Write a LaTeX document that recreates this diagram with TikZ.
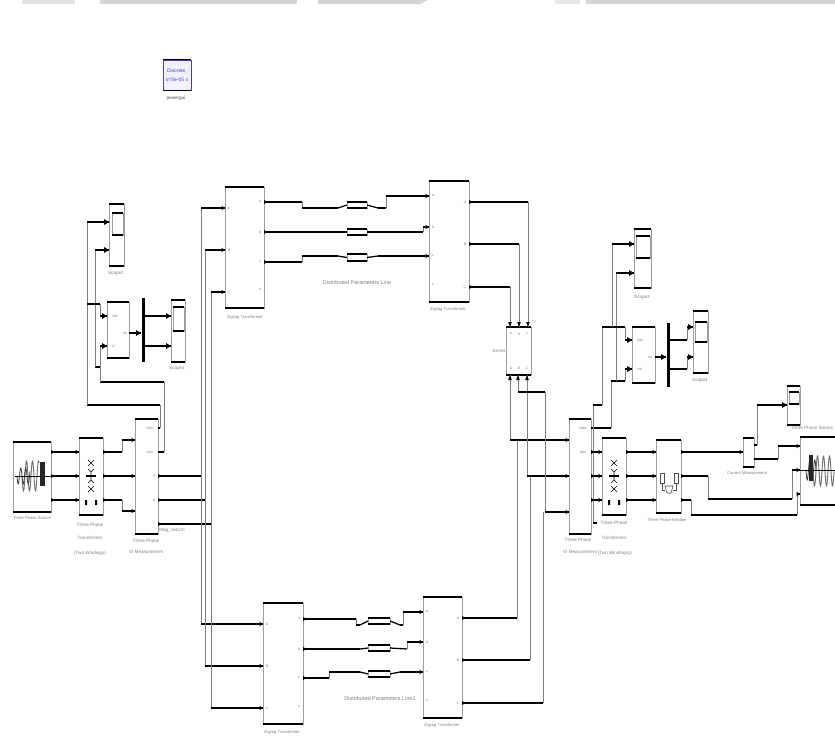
\documentclass[tikz,border=0pt]{standalone}
\usepackage{fontspec}
\setmainfont{Liberation Sans}
\usetikzlibrary{calc}
\definecolor{sidegray}{gray}{0.62}
\definecolor{labgray}{gray}{0.5}
\definecolor{bandgray}{gray}{0.84}
\definecolor{pgblue}{rgb}{0.25,0.25,0.8}
\tikzset{
 blockbox/.style={rectangle,draw=sidegray,line width=0.8pt,inner sep=0pt,outer sep=0pt},
 edge/.style={black,line width=1.25pt},
 hwire/.style={black,line width=1.25pt,line cap=square},
 vwire/.style={sidegray!80!black,line width=0.9pt,line cap=square},
 lab/.style={text=labgray,inner sep=0pt,font=\fontsize{4.6}{5.5}\selectfont},
 slab/.style={text=labgray,inner sep=0pt,font=\fontsize{4.1}{5}\selectfont},
 blab/.style={text=labgray,inner sep=0pt,font=\fontsize{5.5}{6.5}\selectfont},
 plab/.style={text=labgray,inner sep=0pt,font=\fontsize{3.6}{4}\selectfont},
 icon/.style={black,line width=0.6pt},
 coil/.style={sidegray!70!black,line width=0.9pt}
}
\newcounter{labn}
\newcommand\lab[4][lab]{\stepcounter{labn}\node[#1] (t\arabic{labn}) at (#2,#3) {#4};}
\newcommand\blk[5]{%
 \pgfmathsetmacro\bw{#4-#2}\pgfmathsetmacro\bh{#5-#3}%
 \pgfmathsetmacro\bx{(#4+#2)/2}\pgfmathsetmacro\by{(#5+#3)/2}%
 \node[blockbox,minimum width=\bw pt,minimum height=\bh pt] (#1) at (\bx,\by) {};
 \draw[edge] (#1.north west)--(#1.north east);
 \draw[edge] (#1.south west)--(#1.south east);}
\newcommand\port[4]{\coordinate (#1) at (#2.#3 |- 0,#4);}
% wire through a list of points: horizontal and slanted runs black, vertical runs grey
\newcommand\wire[1]{%
 \foreach \wq [count=\wi, remember=\wq as \wp (initially 0)] in {#1} {%
  \ifnum\wi>1
   \path (\wp); \pgfgetlastxy{\xa}{\ya}%
   \path (\wq); \pgfgetlastxy{\xb}{\yb}%
   \pgfmathtruncatemacro\wflag{abs(\xa-\xb)<0.1?1:0}%
   \ifnum\wflag>0 \draw[vwire] (\wp)--(\wq); \else \draw[hwire] (\wp)--(\wq); \fi
  \fi}}
\newcommand\tipR[1]{\fill[black,shift={(#1)}] (-5,-3)--(0,0)--(-5,3)--cycle;}
\newcommand\tipS[1]{\fill[black,shift={(#1)}] (-3.5,-2.2)--(0,0)--(-3.5,2.2)--cycle;}
\newcommand\tipD[1]{\fill[black,shift={(#1)}] (-1.8,-5)--(0,0)--(1.8,-5)--cycle;}
\newcommand\tipU[1]{\fill[black,shift={(#1)}] (-1.8,5)--(0,0)--(1.8,5)--cycle;}
\newcommand\tipO[1]{\fill[black,shift={(#1)}] (0,-2)--(3.5,0)--(0,2)--cycle;}
\newcommand\xfmricon[2]{%
 \begin{scope}[shift={(#1,#2)}]
  \draw[icon] (-3,-16)--(0,-13)--(3,-16) (-3,-10)--(0,-13)--(3,-10);
  \draw[icon] (-3,-7)--(0,-4)--(3,-7) (0,-4)--(0,0);
  \draw[icon] (-3,7)--(0,4)--(3,7) (0,4)--(0,0);
  \draw[icon] (-3,16)--(0,13)--(3,16) (-3,10)--(0,13)--(3,10);
  \draw[black,line width=1.1pt] (-5,0)--(5,0);
  \fill[black] (-6,24) rectangle (-4,29) (4,24) rectangle (6,29);
 \end{scope}}
\begin{document}
\begin{tikzpicture}[x=1pt,y=-1pt]
\useasboundingbox (0,0) rectangle (835,736);
\fill[white] (0,0) rectangle (835,736);
% band along the top edge
\fill[bandgray!70] (22,0) rectangle (75,4);
\fill[bandgray] (100,0) rectangle (297,4);
\fill[bandgray] (318,0)--(428,0)--(420,4)--(318,4)--cycle;
\fill[bandgray!60] (555,0) rectangle (580,4);
\fill[bandgray] (586,0) rectangle (835,4);

% powergui
\node[rectangle,fill=blue!5,draw=pgblue,line width=0.7pt,minimum width=28pt,minimum height=30pt,inner sep=0pt,text=pgblue,align=center,font=\fontsize{5}{9}\selectfont] (pg) at (177,75) {Discrete,\\s=5e-05 s};
\draw[edge] (pg.north west)--(pg.north east);
\draw[edge] (pg.south west)--(pg.south east);
\lab{176}{98}{\textcolor{black!70}{powergui}}

% blocks
\blk{srcL}{13}{442}{51}{512}
\blk{trL}{79}{438}{103}{515}
\blk{mL}{135}{419}{158}{534}
\blk{scA}{109}{204}{124}{266}
\blk{scAd}{112}{213}{123}{235}
\blk{muxA}{107}{302}{129}{358}
\blk{scB}{171}{300}{185}{362}
\blk{scBd}{173}{307}{184}{331}
\blk{zTL}{225}{187}{264}{308}
\blk{zTR}{429}{181}{469}{302}
\blk{zBL}{263}{603}{303}{724}
\blk{zBR}{423}{597}{462}{718}
\blk{brk}{506}{327}{531}{375}
\blk{mR}{569}{419}{591}{534}
\blk{trR}{602}{438}{626}{515}
\blk{brR}{656}{440}{681}{513}
\blk{cm}{743}{438}{754}{467}
\blk{scE}{787}{386}{800}{425}
\blk{scEd}{789}{392}{799}{404}
\blk{srcR}{800}{437}{838}{505}
\blk{scC}{634}{229}{651}{288}
\blk{scCd}{636}{236}{650}{258}
\blk{muxB}{632}{327}{655}{383}
\blk{scD}{693}{311}{708}{373}
\blk{scDd}{695}{322}{707}{342}
% transmission line blocks
\blk{lnTa}{347}{202}{367}{208}
\blk{lnTb}{347}{229}{367}{235}
\blk{lnTc}{347}{254}{367}{261}
\blk{lnBa}{368}{618}{390}{624}
\blk{lnBb}{368}{645}{390}{651}
\blk{lnBc}{368}{671}{390}{677}
% demux bars
\node[rectangle,fill=black,minimum width=3pt,minimum height=64pt,inner sep=0pt] (barA) at (143,330) {};
\node[rectangle,fill=black,minimum width=3pt,minimum height=64pt,inner sep=0pt] (barB) at (668,355) {};

% ports
\foreach \n/\y in {a/452,b/476,c/500}{
 \port{srcL\n}{srcL}{east}{\y}\port{trLi\n}{trL}{west}{\y}\port{trLo\n}{trL}{east}{\y}
 \port{mRo\n}{mR}{east}{\y}\port{trRi\n}{trR}{west}{\y}\port{trRo\n}{trR}{east}{\y}\port{brRi\n}{brR}{west}{\y}\port{brRo\n}{brR}{east}{\y}}
\port{mLa}{mL}{west}{440}\port{mLb}{mL}{west}{476}\port{mLc}{mL}{west}{511}
\port{mLv}{mL}{east}{428}\port{mLi}{mL}{east}{452}
\port{mLoa}{mL}{east}{476}\port{mLob}{mL}{east}{500}\port{mLoc}{mL}{east}{524}
\port{mRa}{mR}{west}{440}\port{mRb}{mR}{west}{476}\port{mRc}{mR}{west}{512}
\port{mRv}{mR}{east}{428}
\port{tla}{zTL}{west}{208}\port{tlb}{zTL}{west}{250}\port{tlc}{zTL}{west}{292}
\port{tra}{zTL}{east}{202}\port{trb}{zTL}{east}{232}\port{trc}{zTL}{east}{262}
\port{Tla}{zTR}{west}{196}\port{Tlb}{zTR}{west}{227}\port{Tlc}{zTR}{west}{256}
\port{Tra}{zTR}{east}{202}\port{Trb}{zTR}{east}{244}\port{Trc}{zTR}{east}{287}
\port{bla}{zBL}{west}{624}\port{blb}{zBL}{west}{666}\port{blc}{zBL}{west}{708}
\port{bra}{zBL}{east}{619}\port{brb}{zBL}{east}{649}\port{brc}{zBL}{east}{678}
\port{Bla}{zBR}{west}{612}\port{Blb}{zBR}{west}{642}\port{Blc}{zBR}{west}{672}
\port{Bra}{zBR}{east}{618}\port{Brb}{zBR}{east}{660}\port{Brc}{zBR}{east}{703}
\coordinate (kta) at (510,327);\coordinate (ktb) at (519,327);\coordinate (ktc) at (528,327);
\coordinate (kba) at (510,375);\coordinate (kbb) at (518,375);\coordinate (kbc) at (527,375);
\port{aI}{scA}{west}{222}\port{aV}{scA}{west}{250}
\port{mxAa}{muxA}{west}{316}\port{mxAb}{muxA}{west}{346}\port{mxAo}{muxA}{east}{333}
\port{bI}{scB}{west}{316}\port{bV}{scB}{west}{346}
\port{cI}{scC}{west}{244}\port{cV}{scC}{west}{273}
\port{mxBa}{muxB}{west}{340}\port{mxBb}{muxB}{west}{369}\port{mxBo}{muxB}{east}{357}
\port{dI}{scD}{west}{327}\port{dV}{scD}{west}{357}
\port{cmi}{cm}{west}{452}\port{cmt}{cm}{east}{445}\port{cmb}{cm}{east}{459}
\port{eI}{scE}{west}{405}
\port{sa}{srcR}{west}{446}\port{sb}{srcR}{west}{470}\port{sc}{srcR}{west}{494}

% left source to measurement
\foreach \n in {a,b,c}{\wire{srcL\n,trLi\n}}
\wire{trLoa,{122,452},{122,440},mLa}
\wire{trLob,mLb}
\wire{trLoc,{122,500},{122,511},mLc}
% measurement to buses
\wire{mLoa,{201,476},{201,208},tla}
\wire{mLob,{205,500},{205,250},tlb}
\wire{mLoc,{211,524},{211,292},tlc}
\wire{{201,476},{201,624},bla}
\wire{{205,500},{205,666},blb}
\wire{{211,524},{211,708},blc}
% left measurement signals
\wire{mLv,{160,428},{160,405},{87,405},{87,222},aI}
\wire{mLi,{164,452},{164,382},{100,382},{100,367},{95,367},{95,250},aV}
\wire{{87,304},{100,304},{100,316},mxAa}
\wire{{100,367},{100,346},mxAb}
\wire{mxAo,{141,333}}
\wire{{144,316},bI}
\wire{{144,346},bV}
% top transmission path
\wire{tra,{302,202},{302,208},{338,208},lnTa.west}
\wire{trb,{338,232},lnTb.west}
\wire{trc,{302,262},{302,256},{338,256},lnTc.west}
\wire{lnTa.east,{378,208},{386,208},{386,196},Tla}
\wire{lnTb.east,{423,232},{423,227},Tlb}
\wire{lnTc.east,{378,256},Tlc}
\wire{Tra,{528,202},ktc}
\wire{Trb,{519,244},ktb}
\wire{Trc,{510,287},kta}
% bottom transmission path
\wire{bra,{356,619},{356,625},{360,625},lnBa.west}
\wire{brb,{360,649},lnBb.west}
\wire{brc,{329,678},{329,672},{360,672},lnBc.west}
\wire{lnBa.east,{400,625},{403,625},{403,612},Bla}
\wire{lnBb.east,{407,649},{407,642},Blb}
\wire{lnBc.east,{400,672},Blc}
\wire{Bra,{517,618},{517,440}}
\wire{Brb,{530,660},{530,476}}
\wire{Brc,{543,703},{543,512}}
% breaker to right measurement
\wire{kba,{510,440},mRa}
\wire{kbc,{527,476},mRb}
\wire{kbb,{518,392},{545,392},{545,512},mRc}
% right chain
\foreach \n in {a,b,c}{\wire{mRo\n,trRi\n}\wire{trRo\n,brRi\n}}
\wire{brRoa,cmi}
\wire{brRob,{708,476},{708,499},{792,499},{792,470},sb}
\wire{brRoc,{691,500},{691,515},{797,515},{797,494},sc}
\wire{cmb,{778,459},{778,446},sa}
\wire{cmt,{757,445},{757,405},eI}
% right measurement signals
\wire{mRv,{611,428},{611,381},{625,381},{625,369},mxBb}
\wire{{616,381},{616,273},cV}
\wire{{593,523},{593,405},{602,405},{602,327},{625,327},{625,340},mxBa}
\wire{{593,523},{597,523}}
\wire{{612,327},{612,244},cI}
\wire{mxBo,{666,357}}
\wire{{669,340},{687,340},{687,327},dI}
\wire{{669,369},{687,369},{687,357},dV}

% arrow tips
\foreach \p in {mLa,mLb,mLc,tla,tlb,tlc,Tla,Tlb,Tlc,bla,blb,blc,Bla,Blb,Blc,mRa,mRb,mRc,trLia,trLib,trLic,trRia,trRib,trRic,brRia,brRib,brRic,cmi,sa,sb,sc}{\tipS{\p}}
\foreach \p in {aI,aV,mxAa,mxAb,bI,bV,cI,cV,mxBa,mxBb,dI,dV,eI}{\tipR{\p}}
\tipR{141,333}\tipR{666,357}
\foreach \p in {kta,ktb,ktc}{\tipD{\p}}
\foreach \p in {kba,kbb,kbc}{\tipU{\p}}
\foreach \p in {srcLa,srcLb,srcLc,trLoa,trLob,trLoc,mLoa,mLob,mLoc,mRoa,mRob,mRoc,trRoa,trRob,trRoc,brRoa,brRob,brRoc,tra,trb,trc,Tra,Trb,Trc,bra,brb,brc,Bra,Brb,Brc}{\tipO{\p}}

% source icons
\draw[coil] plot[domain=0:17,samples=80,smooth] ({22+\x},{476+15*sin(\x*60)});
\draw[black!75,line width=0.8pt] plot[domain=0:13,samples=60,smooth] ({17+\x},{476+8*sin(\x*72)});
\draw[black,line width=1pt] (15,476)--(51,476);
\fill[black!85] (40,462) rectangle (45,486);
\draw[coil] plot[domain=0:21,samples=90,smooth] ({813+\x},{471+15*sin(\x*60)});
\draw[black!75,line width=0.8pt] plot[domain=0:10,samples=50,smooth] ({806+\x},{470+10*sin(\x*72)});
\draw[black,line width=1pt] (800,470)--(835,470);
\fill[black!85] (809,455) rectangle (813,481);
\xfmricon{91}{476}
\xfmricon{614}{476}
% breaker icon
\draw[icon,draw=black!70] (660,473) rectangle (664,483) (674,473) rectangle (678,483);
\draw[icon,draw=black!70] (662,483)--(662,490)--(665,490) (676,483)--(676,490)--(673,490);
\draw[icon,draw=black!70] (665,486)--(673,486)--(671,493)--(667,493)--cycle;

% port text
\lab[plab]{150}{428}{Vabc}\lab[plab]{150}{452}{Iabc}
\lab[plab]{154}{476}{a}\lab[plab]{154}{500}{b}\lab[plab]{154}{524}{c}
\lab[plab]{115}{316}{Vdc}\lab[plab]{113}{346}{Id}\lab[plab]{125}{333}{Vo}
\lab[plab]{583}{428}{Vabc}\lab[plab]{583}{452}{Iabc}
\lab[plab]{640}{340}{Vdc}\lab[plab]{640}{369}{Idc}\lab[plab]{650}{357}{Vo}
\lab[plab]{511}{334}{a}\lab[plab]{519}{334}{b}\lab[plab]{527}{334}{c}
\lab[plab]{511}{368}{A}\lab[plab]{519}{368}{B}\lab[plab]{527}{368}{C}
\foreach \xx/\yy/\ttt in {260/202/a,260/232/b,260/262/c,260/290/n,299/619/a,299/649/b,299/678/c,299/707/n,229/208/A,229/250/B,229/292/C,267/624/A,267/666/B,267/708/C,433/196/a,433/227/b,433/256/c,433/285/n,465/202/A,465/244/B,465/287/C,427/612/a,427/642/b,427/672/c,427/701/n,458/618/A,458/660/B,458/703/C}{\lab[plab]{\xx}{\yy}{\ttt}}

% labels
\lab[slab]{32}{518}{Three Phase Source}
\lab{90}{525}{Three-Phase}\lab{90}{538}{Transformer}\lab{90}{553}{(Two Windings)}
\lab{146}{541}{Three-Phase}\lab{146}{552}{VI Measurement}
\lab{172}{530}{Mag\_Vabcm}
\lab{116}{273}{Scope2}\lab{177}{368}{Scope1}
\lab[slab]{245}{317}{Zigzag Transformer}\lab[slab]{448}{309}{Zigzag Transformer}
\lab[slab]{282}{732}{Zigzag Transformer}\lab[slab]{442}{725}{Zigzag Transformer}
\lab[blab]{357}{283}{Distributed Parameters Line}\lab[blab]{380}{699}{Distributed Parameters Line1}
\lab{499}{351}{Series}
\lab{642}{297}{Scope3}\lab{700}{380}{Scope4}
\lab{578}{540}{Three-Phase}\lab{580}{552}{VI Measurement}
\lab{614}{523}{Three-Phase}\lab{614}{538}{Transformer}\lab{615}{553}{(Two Windings)1}
\lab[slab]{667}{520}{Three Phase Breaker}
\lab[slab]{747}{473}{Current Measurement}
\lab{812}{428}{Three Phase Source}
\end{tikzpicture}
\end{document}
